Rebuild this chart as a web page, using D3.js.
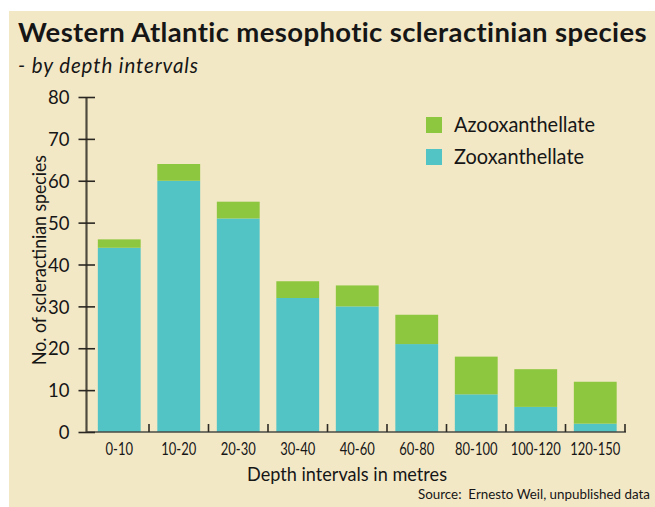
<!DOCTYPE html>
<html>
<head>
<meta charset="utf-8">
<script src="https://cdn.jsdelivr.net/npm/d3@7"></script>
<style>
  html, body { margin: 0; padding: 0; background: #ffffff; }
  svg { display: block; }
  text { font-family: Lato, "Open Sans", sans-serif; fill: #161616; }
</style>
</head>
<body>
<svg id="chart" width="655" height="507"></svg>
<script>
// Depth intervals (metres) and species counts per group
const depthIntervals = ["0-10", "10-20", "20-30", "30-40", "40-60", "60-80", "80-100", "100-120", "120-150"];
const zooxanthellate  = [44, 60, 51, 32, 30, 21, 9, 6, 2];
const azooxanthellate = [2, 4, 4, 4, 5, 7, 9, 9, 10];
const yTicks = [0, 10, 20, 30, 40, 50, 60, 70, 80];
const seriesNames = ["Azooxanthellate", "Zooxanthellate"];
const seriesColors = ["#8DC63F", "#53C4C5"];

const svg = d3.select("#chart");

// Panel background
svg.append("rect")
  .attr("x", 9).attr("y", 11)
  .attr("width", 646).attr("height", 496)
  .attr("fill", "#F3E8C6");

// Bring a text element to a given width: squeeze it when too wide,
// open up the letter spacing when too narrow
function fitWidth(sel, w) {
  const node = sel.node();
  const natural = node.getComputedTextLength();
  if (natural > w) {
    sel.attr("textLength", w).attr("lengthAdjust", "spacingAndGlyphs");
  } else {
    const n = node.textContent.length;
    if (n > 1) sel.attr("letter-spacing", (w - natural) / (n - 1));
  }
  return sel;
}

// Titles
fitWidth(svg.append("text")
  .attr("x", 18).attr("y", 42)
  .attr("font-size", 27.5).attr("font-weight", 700)
  .text("Western Atlantic mesophotic scleractinian species"), 630);

fitWidth(svg.append("text")
  .attr("x", 18).attr("y", 73)
  .attr("font-size", 20.5).attr("font-style", "italic")
  .text("- by depth intervals"), 180);

// Scales
const x = d3.scaleBand()
  .domain(depthIntervals)
  .range([89.5, 625])
  .paddingInner(0.28)
  .paddingOuter(0.14);

const y = d3.scaleLinear().domain([0, 80]).range([432, 97]);

// Stacked data
const rows = depthIntervals.map((d, i) => ({
  depth: d,
  Zooxanthellate: zooxanthellate[i],
  Azooxanthellate: azooxanthellate[i]
}));
const stack = d3.stack().keys(["Zooxanthellate", "Azooxanthellate"]);
const layers = stack(rows);
const colorOf = { Zooxanthellate: seriesColors[1], Azooxanthellate: seriesColors[0] };

svg.append("g")
  .selectAll("g")
  .data(layers)
  .join("g")
  .attr("fill", d => colorOf[d.key])
  .selectAll("rect")
  .data(d => d)
  .join("rect")
  .attr("x", d => x(d.data.depth))
  .attr("width", x.bandwidth())
  .attr("y", d => y(d[1]))
  .attr("height", d => y(d[0]) - y(d[1]));

// Baseline and separators between categories
svg.append("line")
  .attr("x1", 86).attr("x2", 626)
  .attr("y1", y(0)).attr("y2", y(0))
  .attr("stroke", "#4a4a45").attr("stroke-width", 1.6);

const step = x.step();
const boundaries = d3.range(1, depthIntervals.length + 1).map(k => x.range()[0] + k * step);
svg.append("g")
  .selectAll("line")
  .data(boundaries)
  .join("line")
  .attr("x1", d => d).attr("x2", d => d)
  .attr("y1", y(0) - 8).attr("y2", y(0))
  .attr("stroke", "#2e2a24").attr("stroke-width", 1.6);

// Y axis
const yAxis = d3.axisLeft(y).tickValues(yTicks).tickSize(8).tickSizeOuter(0).tickPadding(9);
const gy = svg.append("g").attr("transform", "translate(86.5,0)").call(yAxis);
gy.select(".domain").remove();
gy.insert("line", ":first-child")
  .attr("x1", 0).attr("x2", 0)
  .attr("y1", y(80)).attr("y2", y(0))
  .attr("stroke", "#4f4a3e").attr("stroke-width", 2.2);
gy.selectAll(".tick line")
  .attr("x1", -8).attr("x2", 8.5)
  .attr("stroke", "#2a2722").attr("stroke-width", 1.6);
gy.selectAll(".tick text")
  .attr("font-size", 18.5)
  .attr("font-family", "Lato, sans-serif")
  .attr("fill", "#161616")
  .attr("dy", "0.36em");

// X axis labels, all narrowed by the same factor so the longest fits its slot
const xAxis = d3.axisBottom(x).tickSize(0).tickPadding(0);
const gx = svg.append("g").attr("transform", `translate(0,${y(0)})`).call(xAxis);
gx.select(".domain").remove();
const xLabels = gx.selectAll(".tick text")
  .attr("font-size", 16.5)
  .attr("font-family", "Lato, sans-serif")
  .attr("fill", "#161616")
  .attr("y", 23)
  .attr("dy", 0);
const longest = d3.max(xLabels.nodes(), n => n.getComputedTextLength());
const squeeze = Math.min(1, 50 / longest);
xLabels.each(function() {
  const len = this.getComputedTextLength();
  d3.select(this).attr("textLength", len * squeeze).attr("lengthAdjust", "spacingAndGlyphs");
});

// Axis titles
fitWidth(svg.append("text")
  .attr("x", 347).attr("y", 481)
  .attr("text-anchor", "middle")
  .attr("font-size", 19)
  .text("Depth intervals in metres"), 200);

fitWidth(svg.append("text")
  .attr("transform", "translate(46,260) rotate(-90)")
  .attr("text-anchor", "middle")
  .attr("font-size", 18.5)
  .text("No. of scleractinian species"), 210);

// Legend
const legend = svg.append("g");
seriesNames.forEach((name, i) => {
  const yy = 117 + i * 32;
  legend.append("rect")
    .attr("x", 426).attr("y", yy)
    .attr("width", 16).attr("height", 16)
    .attr("fill", seriesColors[i]);
  fitWidth(legend.append("text")
    .attr("x", 454).attr("y", yy + 15)
    .attr("font-size", 21)
    .text(name), i === 0 ? 141 : 130);
});

// Source note
fitWidth(svg.append("text")
  .attr("x", 650).attr("y", 499)
  .attr("text-anchor", "end")
  .attr("font-size", 13.5)
  .attr("xml:space", "preserve")
  .text("Source:  Ernesto Weil, unpublished data"), 232);
</script>
</body>
</html>
